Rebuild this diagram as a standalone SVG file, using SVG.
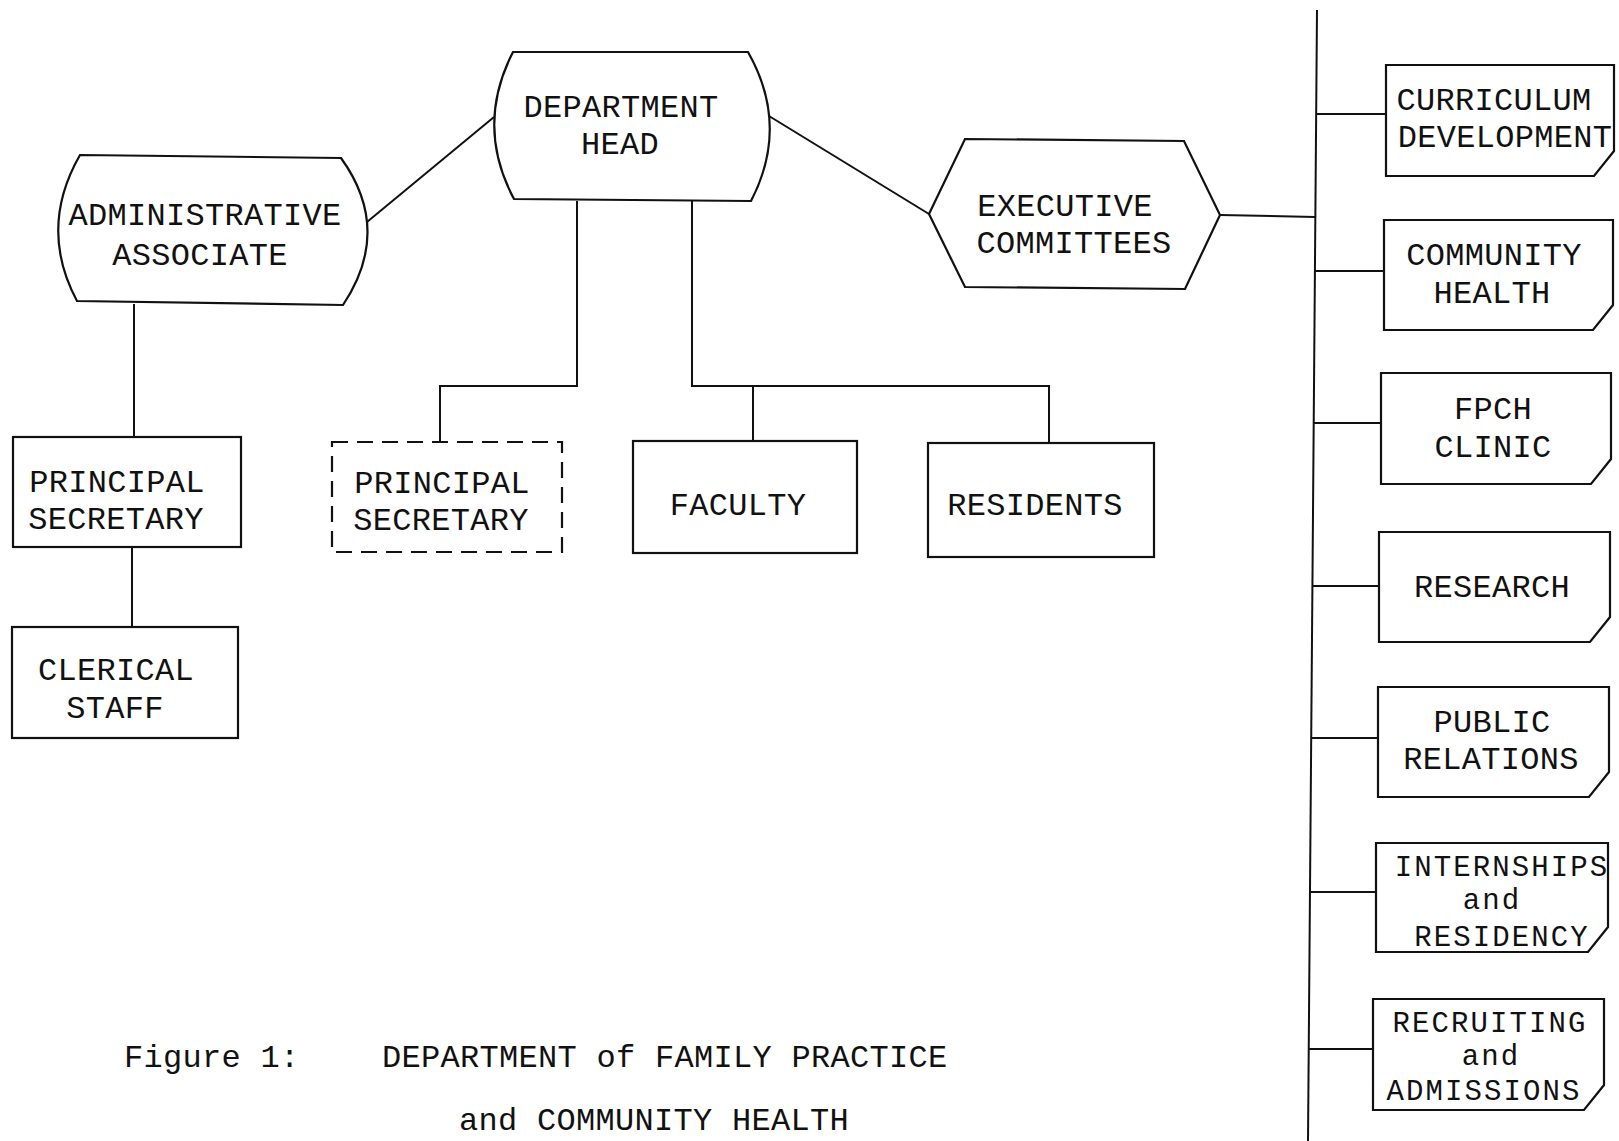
<svg xmlns="http://www.w3.org/2000/svg" width="1619" height="1141" viewBox="0 0 1619 1141">
<style>
.n{fill:#fff;stroke:#111;stroke-width:2.2;stroke-linejoin:miter}
.d{fill:#fff;stroke:#111;stroke-width:2.2;stroke-dasharray:16 9}
.c{fill:none;stroke:#111;stroke-width:2}
.t{font-family:"Liberation Mono","DejaVu Sans Mono",monospace;font-size:32px;fill:#111;text-anchor:middle;letter-spacing:0.3px}
.m{font-size:29px;letter-spacing:2.1px}
.s{text-anchor:start}
</style>
<rect width="1619" height="1141" fill="#fff"/>
<g id="connectors">
<line class="c" x1="367" y1="222" x2="494" y2="117"/>
<line class="c" x1="769" y1="116" x2="929" y2="214"/>
<line class="c" x1="1220" y1="215" x2="1315" y2="217"/>
<line class="c" x1="1317" y1="10" x2="1308" y2="1141"/>
<line class="c" x1="1316" y1="114" x2="1386" y2="114"/>
<line class="c" x1="1315" y1="271" x2="1384" y2="271"/>
<line class="c" x1="1314" y1="423" x2="1381" y2="423"/>
<line class="c" x1="1312" y1="586" x2="1379" y2="586"/>
<line class="c" x1="1311" y1="738" x2="1378" y2="738"/>
<line class="c" x1="1310" y1="892" x2="1376" y2="892"/>
<line class="c" x1="1309" y1="1049" x2="1373" y2="1049"/>
<line class="c" x1="134" y1="304" x2="134" y2="437" stroke-width="1.5"/>
<line class="c" x1="132" y1="547" x2="132" y2="627" stroke-width="1.5"/>
<polyline class="c" points="577,201 577,386 440,386 440,442"/>
<polyline class="c" points="692,201 692,386 1049,386 1049,443"/>
<line class="c" x1="753" y1="386" x2="753" y2="441"/>
</g>
<g id="admin-associate">
<path class="n" d="M80,155 L341,158 Q393,230 343,305 L77,301 Q38,228 80,155 Z"/>
<text class="t" x="205" y="225">ADMINISTRATIVE</text>
<text class="t" x="200" y="265">ASSOCIATE</text>
</g>
<g id="department-head">
<path class="n" d="M513,52 L748,52 Q790,126 751,201 L514,199 Q475,126 513,52 Z"/>
<text class="t" x="621" y="117">DEPARTMENT</text>
<text class="t" x="620" y="154">HEAD</text>
</g>
<g id="executive-committees">
<polygon class="n" points="929,214 965,139 1184,141 1220,215 1185,289 965,287"/>
<text class="t" x="1065" y="216">EXECUTIVE</text>
<text class="t" x="1074" y="253">COMMITTEES</text>
</g>
<g id="principal-secretary-1">
<rect class="n" x="13" y="437" width="228" height="110"/>
<text class="t" x="117" y="492">PRINCIPAL</text>
<text class="t" x="116" y="529">SECRETARY</text>
</g>
<g id="clerical-staff">
<rect class="n" x="12" y="627" width="226" height="111"/>
<text class="t" x="116" y="680">CLERICAL</text>
<text class="t" x="115" y="718">STAFF</text>
</g>
<g id="principal-secretary-2">
<rect class="d" x="332" y="442" width="230" height="110"/>
<text class="t" x="442" y="493">PRINCIPAL</text>
<text class="t" x="441" y="530">SECRETARY</text>
</g>
<g id="faculty">
<rect class="n" x="633" y="441" width="224" height="112"/>
<text class="t" x="738" y="515">FACULTY</text>
</g>
<g id="residents">
<rect class="n" x="928" y="443" width="226" height="114"/>
<text class="t" x="1035" y="515">RESIDENTS</text>
</g>
<g id="curriculum-development">
<path class="n" d="M1386,65 L1614,65 L1614,151 L1594,176 L1386,176 Z"/>
<text class="t" x="1494" y="110">CURRICULUM</text>
<text class="t" x="1505" y="147">DEVELOPMENT</text>
</g>
<g id="community-health">
<path class="n" d="M1384,220 L1613,220 L1613,305 L1593,330 L1384,330 Z"/>
<text class="t" x="1494" y="265">COMMUNITY</text>
<text class="t" x="1492" y="303">HEALTH</text>
</g>
<g id="fpch-clinic">
<path class="n" d="M1381,373 L1611,373 L1611,459 L1591,484 L1381,484 Z"/>
<text class="t" x="1493" y="419">FPCH</text>
<text class="t" x="1493" y="457">CLINIC</text>
</g>
<g id="research">
<path class="n" d="M1379,532 L1610,532 L1610,617 L1590,642 L1379,642 Z"/>
<text class="t" x="1492" y="597">RESEARCH</text>
</g>
<g id="public-relations">
<path class="n" d="M1378,687 L1609,687 L1609,772 L1589,797 L1378,797 Z"/>
<text class="t" x="1492" y="732">PUBLIC</text>
<text class="t" x="1491" y="769">RELATIONS</text>
</g>
<g id="internships-residency">
<path class="n" d="M1376,843 L1608,843 L1608,927 L1588,952 L1376,952 Z"/>
<text class="t m" x="1502" y="876">INTERNSHIPS</text>
<text class="t m" x="1492" y="909">and</text>
<text class="t m" x="1502" y="946">RESIDENCY</text>
</g>
<g id="recruiting-admissions">
<path class="n" d="M1373,999 L1604,999 L1604,1085 L1584,1110 L1373,1110 Z"/>
<text class="t m" x="1490" y="1032">RECRUITING</text>
<text class="t m" x="1491" y="1065">and</text>
<text class="t m" x="1484" y="1100">ADMISSIONS</text>
</g>
<g id="caption">
<text class="t s" x="124" y="1067">Figure 1:</text>
<text class="t s" x="382" y="1067">DEPARTMENT of FAMILY PRACTICE</text>
<text class="t s" x="459" y="1130">and COMMUNITY HEALTH</text>
</g>
</svg>
